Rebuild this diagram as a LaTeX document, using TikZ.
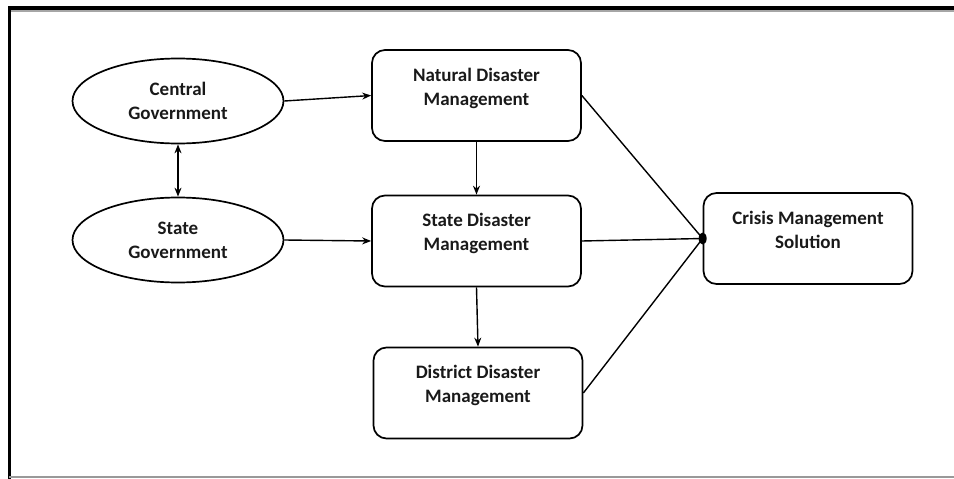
\documentclass[tikz,border=0pt]{standalone}
\usepackage{fontspec}
\setmainfont{Carlito}
\usetikzlibrary{shapes.geometric,arrows.meta}
\begin{document}
\begin{tikzpicture}[x=1pt,y=-1pt,
  every node/.style={font=\bfseries\fontsize{19}{24}\selectfont, align=center, text=black!90},
  govt/.style={draw, line width=1.7pt, ellipse, minimum width=211pt, minimum height=85pt, inner sep=0pt},
  mgmt/.style={draw, line width=1.7pt, rounded corners=13pt, minimum width=209pt, minimum height=91pt, inner sep=0pt},
  link/.style={line width=1.4pt},
  arr/.style={line width=1.4pt, -{Stealth[length=9pt,width=7pt]}},
  darr/.style={line width=1.4pt, {Stealth[length=9pt,width=7pt]}-{Stealth[length=9pt,width=7pt]}}
]
\useasboundingbox (0,0) rectangle (954,479);
% page frame: heavy rule above and to the left, thin grey rule below
\draw[line width=4pt] (8,8) -- (954,8);
\draw[gray!70, line width=1.2pt] (10,11) -- (954,11);
\draw[line width=3pt] (9.5,6) -- (9.5,479);
\draw[gray!80, line width=2pt] (9,477) -- (954,477);

% government bodies
\node[govt] (cg) at (178,101) {Central\\Government};
\node[govt] (sg) at (178,240) {State\\Government};

% management levels (text sits in the upper part of each box)
\node[mgmt] (nd) at (476.5,95.5) {Natural Disaster\\Management\\[-6pt]\mbox{}};
\node[mgmt] (sd) at (476.5,241) {State Disaster\\Management\\[-6pt]\mbox{}};
\node[mgmt] (dd) at (478,393) {District Disaster\\Management\\[-6pt]\mbox{}};
\node[mgmt] (cm) at (808,238.5) {Crisis Management\\Solution\\[-6pt]\mbox{}};

% junction at the solution box
\coordinate (j) at (cm.west);
\fill (j) ellipse (4pt and 6pt);

% connectors
\draw[darr] (cg.south) -- (sg.north);
\draw[arr] (cg.east) -- (nd.west);
\draw[arr] (sg.east) -- (sd.west);
\draw[arr] (nd.south) -- (sd.north);
\draw[arr] (sd.south) -- (dd.north);
\draw[link] (nd.east) -- (j);
\draw[link] (sd.east) -- (j);
\draw[link] (dd.east) -- (j);
\end{tikzpicture}
\end{document}
